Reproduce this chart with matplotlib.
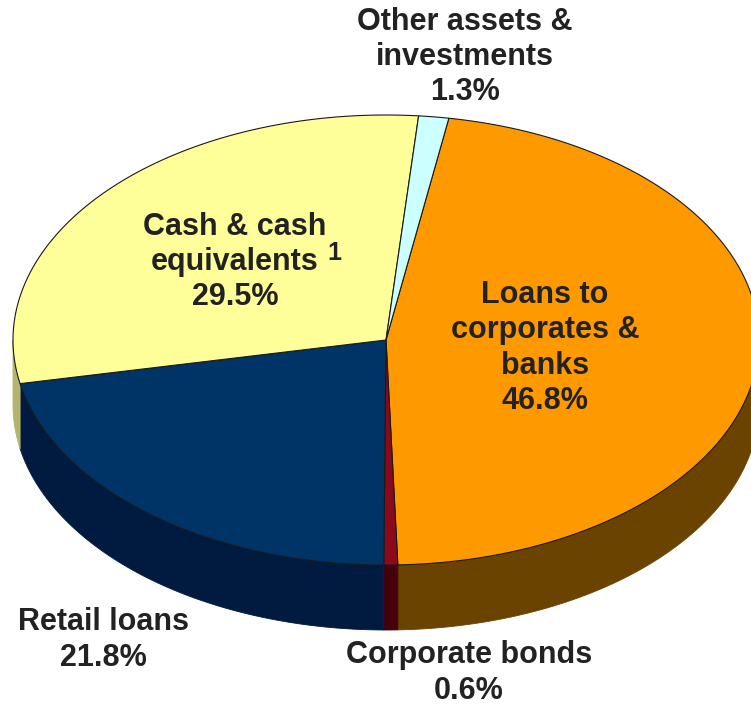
import numpy as np
import matplotlib
matplotlib.use("Agg")
import matplotlib.pyplot as plt
from matplotlib.patches import Polygon

# asset mix, clockwise from the first slice
labels = ["Loans to\ncorporates &\nbanks", "Corporate bonds", "Retail loans",
          "Cash & cash\nequivalents", "Other assets &\ninvestments"]
shares = [46.8, 0.6, 21.8, 29.5, 1.3]
top_colors = ["#ff9900", "#8a0a1c", "#003366", "#ffff99", "#ccffff"]
side_colors = ["#6b4300", "#45000c", "#001b3f", "#b4b46c", "#8aa8a8"]

# pie geometry in pixels
CX, CY = 386, 340
RX, RY = 373, 225
DEPTH = 65
START = 9.7


def rim(theta, drop=0):
    """Points on the pie edge, theta in degrees clockwise from the top."""
    t = np.radians(theta)
    return np.column_stack([CX + RX * np.sin(t), CY - RY * np.cos(t) + drop])


def draw_pie(ax):
    edges = START + np.cumsum([0] + shares) * 3.6

    # side wall, only the front half of the rim can be seen
    for i in range(len(shares)):
        a, b = max(edges[i], 90), min(edges[i + 1], 270)
        if a >= b:
            continue
        t = np.linspace(a, b, 120)
        pts = np.vstack([rim(t), rim(t[::-1], DEPTH)])
        ax.add_patch(Polygon(pts, closed=True, fc=side_colors[i], ec=side_colors[i], lw=0.6))

    # top face
    for i in range(len(shares)):
        t = np.linspace(edges[i], edges[i + 1], 200)
        pts = np.vstack([[CX, CY], rim(t)])
        ax.add_patch(Polygon(pts, closed=True, fc=top_colors[i], ec="#1a1a1a", lw=0.8))


def draw_text(ax):
    style = dict(ha="center", va="center", fontsize=22, fontweight="bold",
                 color="#222222", family="Liberation Sans", linespacing=1.23)
    ax.text(545, 348, f"{labels[0]}\n{shares[0]}%", **style)
    ax.text(469, 673, f"{labels[1]}\n{shares[1]}%", **style)
    ax.text(103, 640, f"{labels[2]}\n{shares[2]}%", **style)
    ax.text(235, 262, f"{labels[3]}\n{shares[3]}%", **style)
    ax.text(465, 57, f"{labels[4]}\n{shares[4]}%", **style)
    ax.text(327, 253, "1", ha="left", va="center", fontsize=18, fontweight="bold",
            color="#222222", family="Liberation Sans")


fig = plt.figure(figsize=(7.51, 7.06), dpi=100)
ax = fig.add_axes([0, 0, 1, 1])
ax.set_xlim(0, 751)
ax.set_ylim(706, 0)
ax.axis("off")

draw_pie(ax)
draw_text(ax)

fig.savefig("out.png", dpi=100)
